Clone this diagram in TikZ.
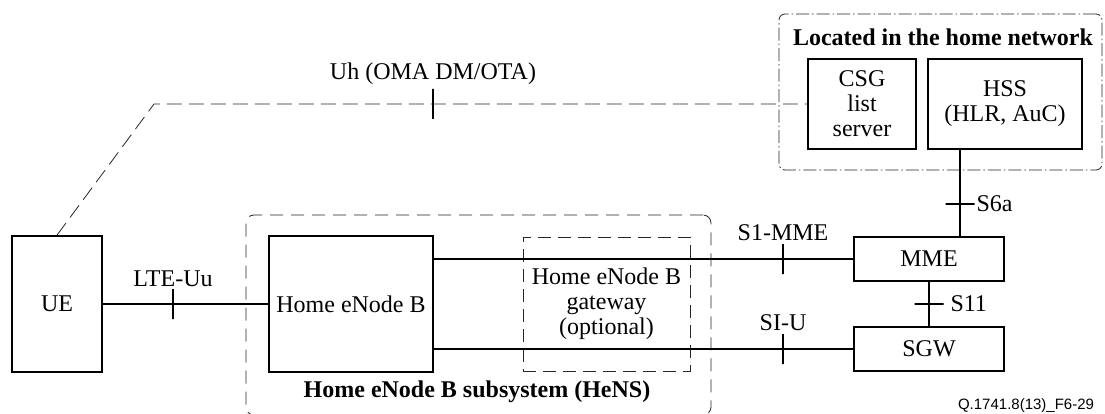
\documentclass[tikz,border=0pt]{standalone}
\usepackage{fontspec}
\setmainfont{Liberation Serif}
\newfontfamily\footfont{Liberation Sans}
\usetikzlibrary{positioning,calc}
\tikzset{
  blk/.style={draw=black,line width=1.7pt,inner sep=0pt,align=center,font=\fontsize{24}{25}\selectfont},
  gwbox/.style={draw=black!85,line width=0.8pt,inner sep=0pt,align=center,dash pattern=on 13pt off 7pt,font=\fontsize{24}{25}\selectfont},
  link/.style={draw=black,line width=1.4pt},
  uh/.style={draw=black!85,line width=0.8pt,dash pattern=on 15pt off 7pt},
  vtick/.style={draw=black,line width=1.6pt,inner sep=0pt,minimum width=0pt,minimum height=30pt},
  htick/.style={draw=black,line width=1.6pt,inner sep=0pt,minimum width=29pt,minimum height=0pt},
  lbl/.style={inner sep=0pt,font=\fontsize{24}{25}\selectfont},
  ttl/.style={inner sep=0pt,font=\fontsize{24}{25}\selectfont\bfseries},
}
\tikzset{grp/.style={draw=black!85,line width=0.8pt,rounded corners=8pt,dash pattern=on 13pt off 8pt}, grpdot/.style={draw=black!85,line width=0.8pt,rounded corners=6pt,dash pattern=on 13pt off 3pt on 1.5pt off 3pt}}

\begin{document}
\begin{tikzpicture}[x=1pt,y=-1pt]
\path[use as bounding box] (0,0) rectangle (1105,414);
\node[grpdot,minimum width=323pt,minimum height=156pt](home) at (940.5,92){};
\node[grp,minimum width=465pt,minimum height=200pt](HeNS) at (478.5,315){};
\node[ttl](homet) at (943,37){Located in the home network};
\node[ttl](HeNSt) at (477,392){Home eNode B subsystem (HeNS)};
\node[blk,minimum width=90pt,minimum height=136pt](UE) at (57,304){UE};
\node[blk,minimum width=164pt,minimum height=136pt](HeNB) at (351,304){Home eNode B};
\node[gwbox,minimum width=167pt,minimum height=134pt](HGW) at (606.5,304){Home eNode B\\gateway\\(optional)};
\node[blk,minimum width=150pt,minimum height=44pt](MME) at (929,259){MME};
\node[blk,minimum width=150pt,minimum height=44pt](SGW) at (929,349){SGW};
\node[blk,minimum width=108pt,minimum height=90pt](CSG) at (862,104){CSG\\list\\server};
\node[blk,minimum width=154pt,minimum height=90pt](HSS) at (1005,104){HSS\\(HLR, AuC)};
\coordinate (uhbend) at (154,104);\coordinate (s6) at ($(MME.north)+(31,0)$);
\draw[uh] (UE.north) -- (uhbend) -- (CSG.west);
\draw[link] (UE) -- (HeNB);
\draw[link] (HeNB.east |- MME.west) -- (MME.west);\draw[link] (HeNB.east |- SGW.west) -- (SGW.west);
\draw[link] (MME) -- (SGW);\draw[link] (s6) -- (s6 |- HSS.south);
\node[vtick](tUh) at (433,104){};\node[lbl,above=3pt of tUh]{Uh (OMA DM/OTA)};
\node[vtick](tLTE) at (173,304){};\node[lbl,above=1pt of tLTE]{LTE-Uu};
\node[vtick](tS1) at (783,259){};\node[lbl,above=2pt of tS1]{S1-MME};
\node[vtick](tSU) at (783,349){};\node[lbl,above=2pt of tSU]{SI-U};
\node[htick](tS6) at (960,204){};\node[lbl,right=1pt of tS6]{S6a};
\node[htick](tS11) at (929,304){};\node[lbl,right=6pt of tS11]{S11};
\node[anchor=base,inner sep=0pt,font=\footfont\fontsize{15}{16}\selectfont](fig) at (1026,409){Q.1741.8(13)\_F6-29};
\end{tikzpicture}
\end{document}
